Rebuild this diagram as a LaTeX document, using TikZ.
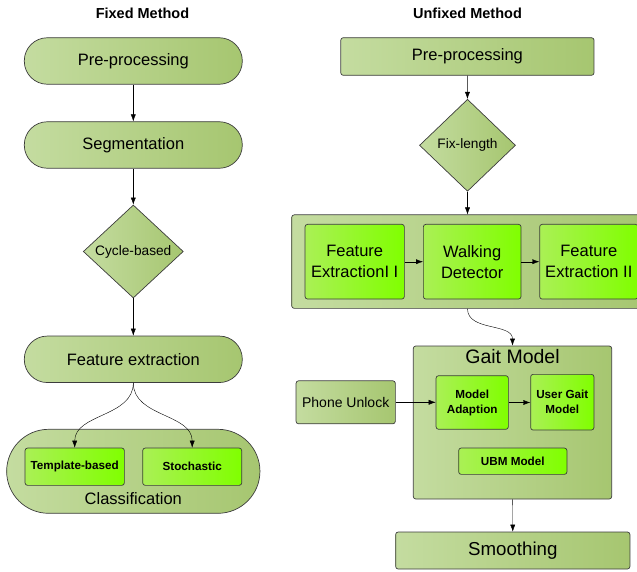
\documentclass[tikz,border=0pt]{standalone}
\usepackage{fontspec}
\setmainfont{Liberation Sans}
\usetikzlibrary{shapes,arrows.meta,positioning,calc}
\definecolor{paleleft}{RGB}{196,220,160}
\definecolor{paleright}{RGB}{166,198,112}
\definecolor{limeleft}{RGB}{170,240,85}
\definecolor{limeright}{RGB}{128,255,0}
\definecolor{edgegray}{RGB}{60,60,60}
\newcommand{\titlefont}{\fontsize{14.5}{17}\selectfont\bfseries}
\newcommand{\bigtxt}{\fontsize{16.5}{21}\selectfont}
\newcommand{\medtxt}{\fontsize{14}{17}\selectfont}
\newcommand{\difftxt}{\fontsize{13.7}{16}\selectfont}
\newcommand{\smallbold}{\fontsize{11.7}{15}\selectfont\bfseries}
\tikzset{
  pale/.style={draw=edgegray, line width=0.7pt, left color=paleleft, right color=paleright},
  lime/.style={draw=edgegray, line width=0.7pt, left color=limeleft, right color=limeright, rounded corners=2.5pt},
  panel/.style={pale, rounded corners=2.5pt},
  stadium/.style={pale, rounded corners=23pt, minimum width=218pt, minimum height=46.5pt, font=\bigtxt},
  decision/.style={pale, diamond, font=\difftxt},
  heading/.style={font=\titlefont}
}

\begin{document}
\begin{tikzpicture}[x=1pt, y=-1pt, >={Latex[length=7pt,width=5pt]}, inner sep=0pt]
    \useasboundingbox (0,0) rectangle (637,572);

    % Fixed method
    \node[heading] (fixedtitle) at (142.5,13) {Fixed Method};
    \node[stadium] (pre) at (133.3,61) {Pre-processing};
    \node[stadium] (seg) at (133.3,145) {Segmentation};
    \node[decision, minimum width=100pt, minimum height=93pt] (cycle) at (133.3,251.5) {Cycle-based};
    \node[stadium] (feat) at (133.3,359.3) {Feature extraction};
    \node[pale, rounded corners=42pt, minimum width=253.3pt, minimum height=84pt] (classif) at (133.3,471.3) {};
    \node[lime, minimum width=99.3pt, minimum height=37.3pt, font=\smallbold] (templ) at (74.7,466.7) {Template-based};
    \node[lime, minimum width=99pt, minimum height=37.3pt, font=\smallbold] (stoch) at (192.2,466.7) {Stochastic};
    \node[font=\bigtxt] (classiflabel) at (133.3,499) {Classification};

    \draw[->] (pre) -- (seg);
    \draw[->] (seg) -- (cycle);
    \draw[->] (cycle) -- (feat);
    \draw[->] (feat.south) to[out=-90, in=90] (templ.north);
    \draw[->] (feat.south) to[out=-90, in=90] (stoch.north);

    % Unfixed method
    \node[heading] (unfixedtitle) at (467.5,13) {Unfixed Method};
    \node[panel, minimum width=253.3pt, minimum height=37.6pt, font=\bigtxt] (upre) at (467.4,56.5) {Pre-processing};
    \node[decision, minimum width=96pt, minimum height=92pt] (fixlen) at (467.5,145.3) {Fix-length};
    \node[panel, minimum width=360pt, minimum height=93.5pt] (stage) at (471.7,261.6) {};
    \node[lime, minimum width=99.3pt, minimum height=74.7pt, align=center, font=\bigtxt] (fe1) at (354.7,261.7) {Feature\\ExtractionI I};
    \node[lime, minimum width=97.7pt, minimum height=74.7pt, align=center, font=\bigtxt] (walk) at (472.2,261.7) {Walking\\Detector};
    \node[lime, minimum width=98.3pt, minimum height=74.7pt, align=center, font=\bigtxt] (fe2) at (588.8,261.7) {Feature\\Extraction II};

    \node[panel, minimum width=198.4pt, minimum height=153pt] (gait) at (512.5,422.5) {};
    \node[font=\fontsize{19.5}{23}\selectfont] (gaitlabel) at (512.5,357) {Gait Model};
    \node[panel, minimum width=99.3pt, minimum height=43pt, font=\medtxt] (unlock) at (345.7,402.3) {Phone Unlock};
    \node[lime, minimum width=72.3pt, minimum height=53.6pt, align=center, font=\smallbold] (adapt) at (472.2,402.5) {Model\\Adaption};
    \node[lime, minimum width=63.3pt, minimum height=55.7pt, align=center, font=\smallbold] (usergait) at (562.3,402.2) {User Gait\\Model};
    \node[lime, minimum width=108.3pt, minimum height=26.3pt, font=\smallbold] (ubm) at (512.8,461.2) {UBM Model};
    \node[panel, minimum width=234.3pt, minimum height=37pt, font=\fontsize{18.7}{22}\selectfont] (smooth) at (512.8,550.5) {Smoothing};

    \draw[->] (upre) -- (fixlen);
    \draw[->] (fixlen.south) -- (fixlen.south |- stage.north);
    \draw[->] (fe1) -- (walk);
    \draw[->] (walk) -- (fe2);
    \draw[->] (fixlen.south |- stage.south) to[out=-90, in=90] (gait.north);
    \draw[->] (unlock.east) -- (unlock.east -| adapt.west);
    \draw[->] (adapt.east) -- (adapt.east -| usergait.west);
    \draw[->] (gait) -- (smooth);
\end{tikzpicture}
\end{document}
